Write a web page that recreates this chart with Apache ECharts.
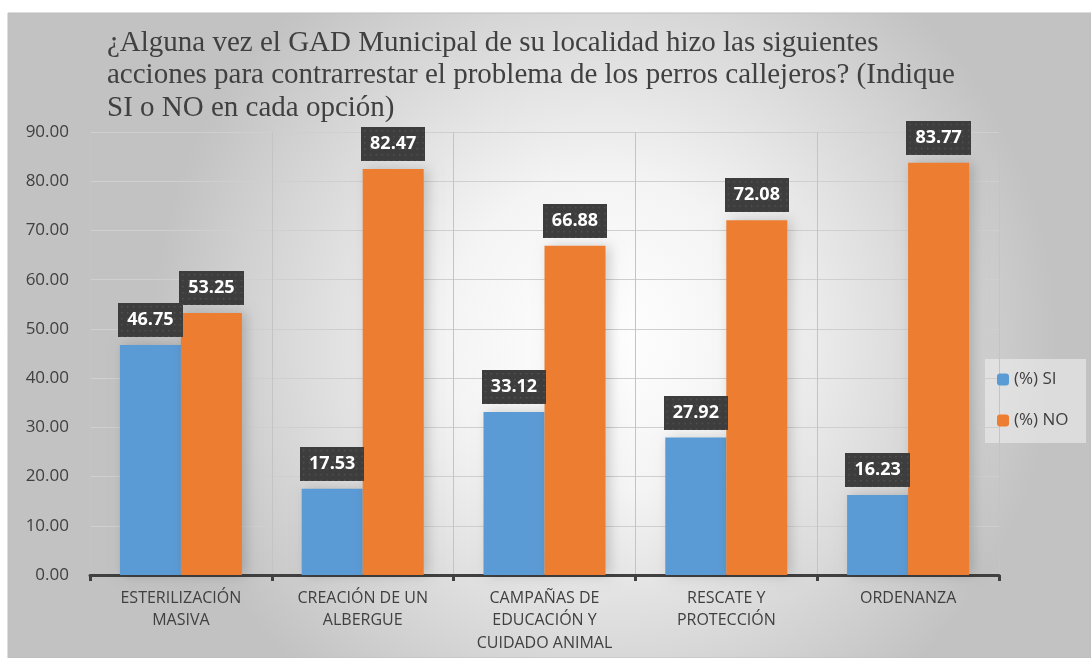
<!DOCTYPE html>
<html>
<head>
<meta charset="utf-8">
<script src="https://cdn.jsdelivr.net/npm/echarts@6/dist/echarts.min.js"></script>
<style>
  html, body { margin: 0; padding: 0; background: #fff; }
  #chart { width: 1091px; height: 658px; }
</style>
</head>
<body>
<div id="chart"></div>
<script>
// data
const categories = [
  'ESTERILIZACIÓN\nMASIVA',
  'CREACIÓN DE UN\nALBERGUE',
  'CAMPAÑAS DE\nEDUCACIÓN Y\nCUIDADO ANIMAL',
  'RESCATE Y\nPROTECCIÓN',
  'ORDENANZA'
];
const siValues = [46.75, 17.53, 33.12, 27.92, 16.23];
const noValues = [53.25, 82.47, 66.88, 72.08, 83.77];
const seriesNames = ['(%) SI', '(%) NO'];
const titleText = '¿Alguna vez el GAD Municipal de su localidad hizo las siguientes\n' +
  'acciones para contrarrestar el problema de los perros callejeros? (Indique\n' +
  'SI o NO en cada opción)';

// dotted dark texture for the data label boxes
function dotTexture() {
  const c = document.createElement('canvas');
  c.width = 66; c.height = 34;
  const ctx = c.getContext('2d');
  ctx.fillStyle = '#3d3d3d';
  ctx.fillRect(0, 0, c.width, c.height);
  ctx.fillStyle = '#555555';
  for (let y = 3; y < c.height; y += 6) {
    for (let x = 3; x < c.width; x += 6) {
      ctx.fillRect(x, y, 1.5, 1.5);
    }
  }
  return c;
}

const chart = echarts.init(document.getElementById('chart'));

const valueLabel = {
  show: true,
  position: 'top',
  distance: 8,
  formatter: p => p.value.toFixed(2),
  color: '#fff',
  fontFamily: 'Open Sans',
  fontWeight: 'bold',
  fontSize: 18,
  lineHeight: 20,
  backgroundColor: { image: dotTexture() },
  padding: [7, 9, 7, 9],
  shadowColor: 'rgba(0,0,0,0.45)',
  shadowBlur: 6,
  shadowOffsetX: 2,
  shadowOffsetY: 2
};

const barShadow = {
  shadowColor: 'rgba(0,0,0,0.18)',
  shadowBlur: 12,
  shadowOffsetX: 4
};

chart.setOption({
  animation: false,
  textStyle: { fontFamily: 'Open Sans' },
  graphic: [
    {
      type: 'rect', z: -10, silent: true,
      shape: { x: 8, y: 13, width: 1083, height: 645 },
      style: {
        fill: {
          type: 'radial', x: 0.55, y: 0.5, r: 0.7,
          colorStops: [
            { offset: 0, color: '#ffffff' },
            { offset: 0.35, color: '#f4f4f4' },
            { offset: 1, color: '#c2c2c2' }
          ]
        },
        stroke: '#bdbdbd', lineWidth: 1
      }
    },
    {
      type: 'rect', z: -9, silent: true,
      shape: { x: 985, y: 359, width: 101, height: 84 },
      style: { fill: 'rgba(245,245,245,0.5)' }
    }
  ],
  title: {
    text: titleText,
    left: 102,
    top: 22,
    textStyle: {
      fontFamily: 'Liberation Serif',
      fontWeight: 'normal',
      fontSize: 29,
      lineHeight: 32.5,
      color: '#404040'
    }
  },
  legend: {
    orient: 'vertical',
    left: 997,
    top: 371,
    padding: 0,
    itemWidth: 12,
    itemHeight: 12,
    itemGap: 24,
    textStyle: { color: '#404040', fontSize: 17 },
    data: seriesNames
  },
  grid: { left: 90, right: 92, top: 132, bottom: 83 },
  xAxis: {
    type: 'category',
    data: categories,
    axisLine: { lineStyle: { color: '#404040', width: 3 } },
    axisTick: { show: true, length: 6, lineStyle: { color: '#404040', width: 3 } },
    splitLine: { show: true, lineStyle: { color: '#c4c4c4', width: 1 } },
    axisLabel: {
      color: '#404040', fontSize: 16, lineHeight: 22.5, margin: 12
    }
  },
  yAxis: {
    type: 'value',
    min: 0, max: 90, interval: 10,
    axisLine: { show: false },
    axisTick: { show: false },
    splitLine: { lineStyle: { color: '#cfcfcf', width: 1 } },
    axisLabel: {
      color: '#404040', fontSize: 17, margin: 21,
      formatter: v => v.toFixed(2)
    }
  },
  series: [
    {
      name: seriesNames[0], type: 'bar', data: siValues,
      itemStyle: Object.assign({ color: '#5b9bd5' }, barShadow),
      barWidth: 61, barGap: '0%',
      label: valueLabel
    },
    {
      name: seriesNames[1], type: 'bar', data: noValues,
      itemStyle: Object.assign({ color: '#ed7d31' }, barShadow),
      barWidth: 61, barGap: '0%',
      label: valueLabel
    }
  ]
});
</script>
</body>
</html>
